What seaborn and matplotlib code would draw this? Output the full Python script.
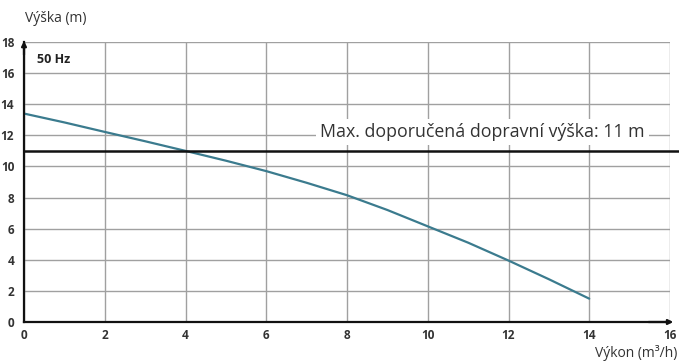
import matplotlib
matplotlib.use("Agg")
import matplotlib.pyplot as plt
import seaborn as sns
import pandas as pd

flow = [0, 1, 2, 3, 4, 5, 6, 7, 8, 9, 10, 11, 12, 13, 14]
head = [13.4, 12.83, 12.22, 11.62, 11.0, 10.37, 9.7, 8.95, 8.15, 7.2, 6.15, 5.1, 3.95, 2.75, 1.5]
xticks = [0, 2, 4, 6, 8, 10, 12, 14, 16]
yticks = [0, 2, 4, 6, 8, 10, 12, 14, 16, 18]
max_head = 11
label_max = "Max. doporučená dopravní výška: 11 m"

sns.set_theme(style="white")
plt.rcParams['font.family'] = ['Open Sans', 'DejaVu Sans']

fig = plt.figure(figsize=(6.79, 3.62), dpi=100)
ax = fig.add_axes([24/679, 40/362, 646/679, 280/362])

df = pd.DataFrame({"flow": flow, "head": head})
sns.lineplot(data=df, x="flow", y="head", ax=ax, color="#3b7b8e", linewidth=1.6)

ax.set_xlim(0, 16)
ax.set_ylim(0, 18)
ax.set_xticks(xticks)
ax.set_yticks(yticks)
ax.set_xticklabels([str(t) for t in xticks], fontweight="bold", fontsize=8.5, color="#333333")
ax.set_yticklabels([str(t) for t in yticks], fontweight="bold", fontsize=8.5, color="#333333")
ax.tick_params(axis="x", length=0, pad=5)
ax.tick_params(axis="y", length=0, pad=7)
ax.grid(True, color="#a0a0a0", linewidth=1.0)
for s in ["top", "right"]:
    ax.spines[s].set_visible(False)
for s in ["left", "bottom"]:
    ax.spines[s].set_color("#111111")
    ax.spines[s].set_linewidth(1.6)
ax.set_xlabel("")
ax.set_ylabel("")

# arrows on axes
ax.annotate("", xy=(0, 18.25), xytext=(0, 17.0), annotation_clip=False,
            arrowprops=dict(arrowstyle="-|>", color="#111111", lw=1.6, mutation_scale=7))
ax.annotate("", xy=(16.15, 0), xytext=(15.4, 0), annotation_clip=False,
            arrowprops=dict(arrowstyle="-|>", color="#111111", lw=1.6, mutation_scale=7))

ax.axhline(max_head, xmin=0, xmax=1.02, color="#111111", linewidth=1.8, clip_on=False, zorder=3)
ax.text(11.35, 12.2, label_max, ha="center", va="center", fontsize=12.8, color="#333333",
        bbox=dict(facecolor="white", edgecolor="none", pad=3), zorder=4)

ax.text(0.32, 16.9, "50 Hz", fontweight="bold", fontsize=9, color="#222222", va="center")

fig.text(25/679, 1 - 18/362, "Výška (m)", fontsize=10, color="#333333", va="center", ha="left")
fig.text(677/679, 1 - 353/362, "Výkon (m³/h)", fontsize=10, color="#333333", va="center", ha="right")

fig.savefig("out.png", dpi=100)
